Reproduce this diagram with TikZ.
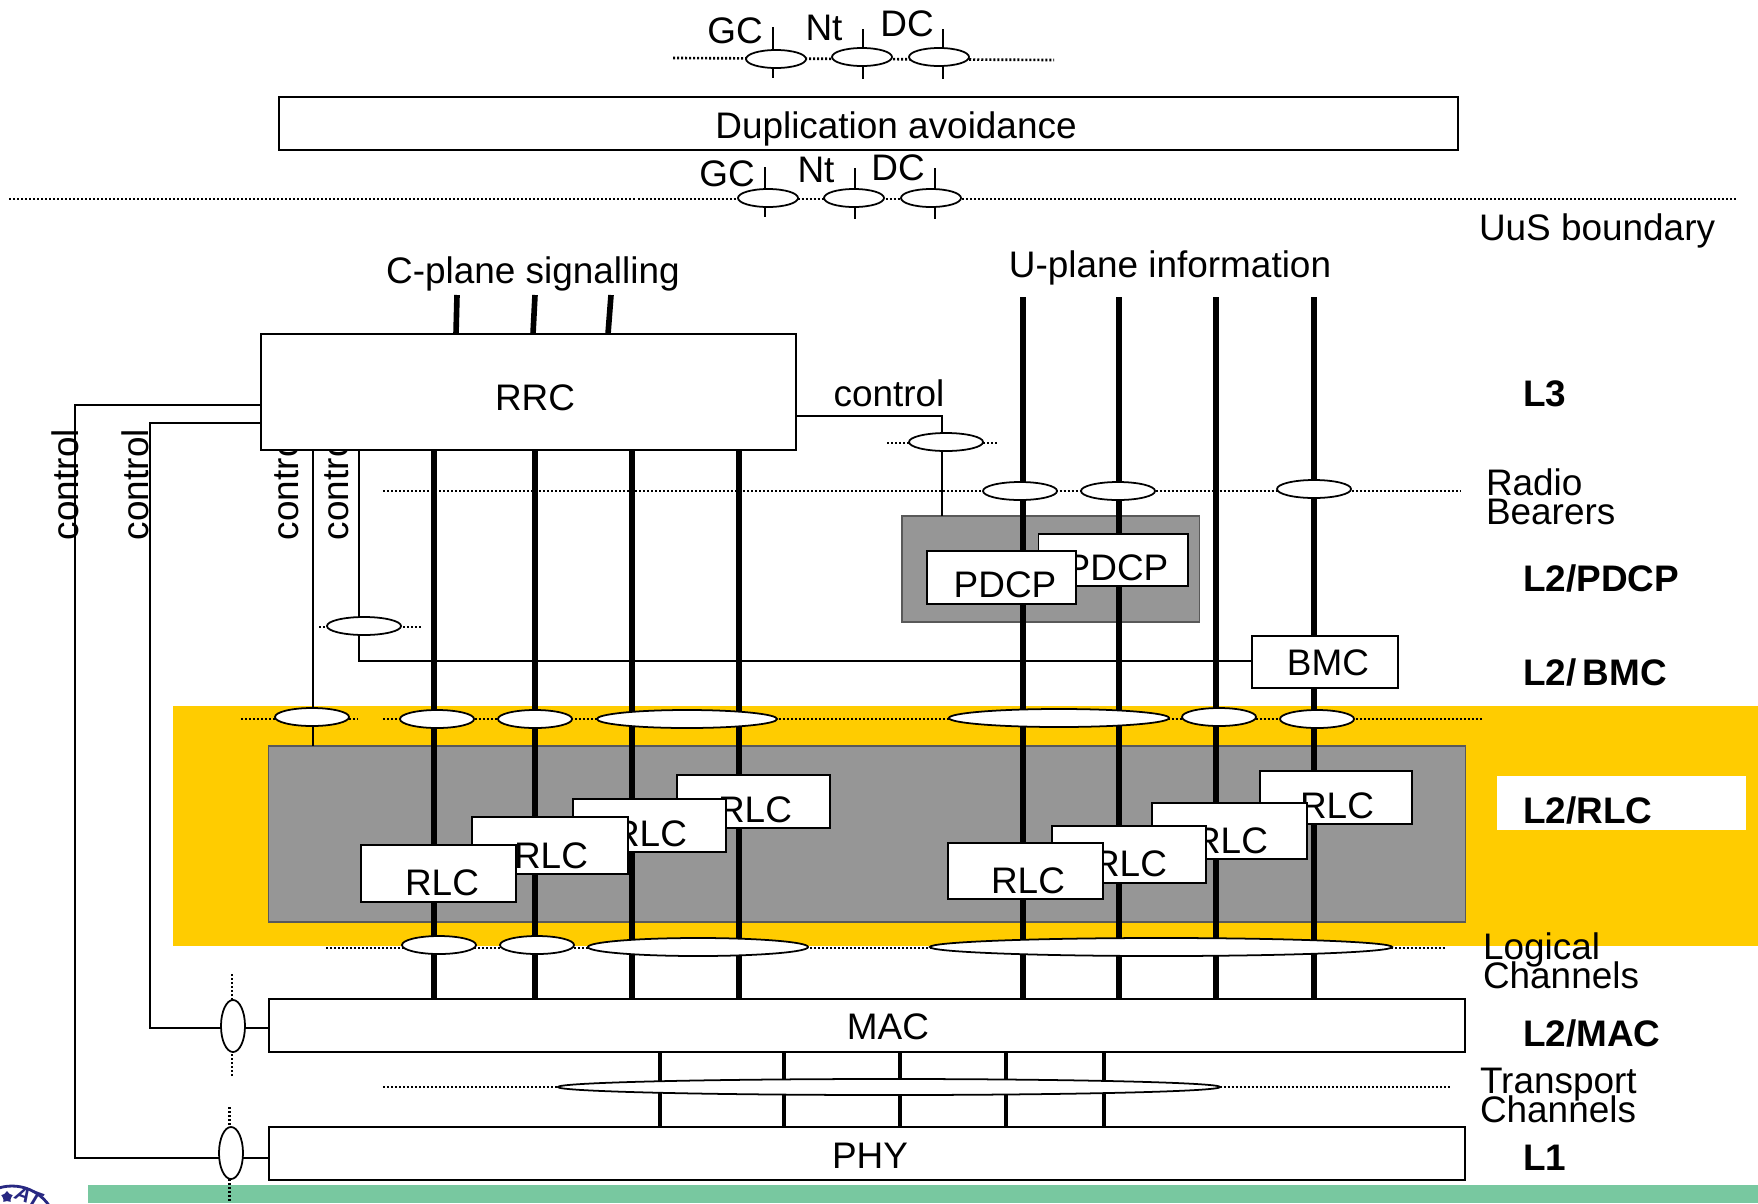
\documentclass[tikz,border=0pt]{standalone}
\usepackage{fontspec}
\setmainfont{Liberation Sans}
\usetikzlibrary{shapes.geometric}
\definecolor{bandyellow}{RGB}{255,204,0}
\definecolor{bandgray}{RGB}{150,150,150}
\definecolor{footgreen}{RGB}{120,200,160}
\definecolor{sealblue}{RGB}{40,40,130}
\newcommand{\lbltight}{\lineskiplimit -10pt\relax}
\tikzset{
  txt/.style={inner sep=0pt,outer sep=0pt,font=\fontsize{10.5}{8}\selectfont\lbltight,anchor=base},
  txtl/.style={txt,anchor=base west},
  txtb/.style={txtl,font=\fontsize{10.5}{8}\selectfont\bfseries},
  boxw/.style={draw=black,fill=white,line width=0.55pt,inner sep=0pt,outer sep=0pt},
  boxg/.style={draw=black!65,fill=bandgray,line width=0.45pt,inner sep=0pt,outer sep=0pt},
  flat/.style={inner sep=0pt,outer sep=0pt},
  oval/.style={ellipse,draw=black,fill=white,line width=0.5pt,inner sep=0pt,outer sep=0pt,minimum width=0.74cm,minimum height=0.18cm},
  ovalv/.style={oval,minimum width=0.24cm,minimum height=0.52cm},
  ctrl/.style={line width=0.5pt},
  chan/.style={line width=1.6pt},
  trch/.style={line width=1.3pt},
  dots/.style={line width=0.75pt,dash pattern=on 0.02cm off 0.02cm}
}
\begin{document}
\begin{tikzpicture}[x=0.01cm,y=-0.01cm]
\clip (0,0) rectangle (1758,1203);
\fill[white] (0,0) rectangle (1758,1203);
% bands
\node[flat,fill=bandyellow,minimum width=15.85cm,minimum height=2.40cm] (band) at (965.5,826) {};
\node[flat,fill=footgreen,minimum width=16.70cm,minimum height=0.18cm] (foot) at (923,1194) {};
\node[flat,fill=white,minimum width=2.49cm,minimum height=0.54cm] (rlcwhite) at (1621.5,803) {};
\node[boxg,minimum width=11.96cm,minimum height=1.76cm] (rlcbg) at (867,834) {};
\node[boxg,minimum width=2.975cm,minimum height=1.06cm] (pdcpbg) at (1050.75,569) {};
% seal
\draw[sealblue,line width=0.8pt] (12,1231) circle (45);
\node[flat,star,fill=sealblue,minimum size=0.12cm] (sealstar) at (7,1197) {};
\node[txt,rotate=-20,font=\fontsize{6}{6}\selectfont\bfseries\itshape,text=sealblue] (sealtxt) at (26,1203) {AT};

% top interfaces
\coordinate (dotAa) at (673,58);
\coordinate (dotAb) at (1054,60);
\coordinate (dotBa) at (9,199);
\coordinate (dotBb) at (1738,199);
\draw[dots] (dotAa) -- (dotAb);
\draw[dots] (dotBa) -- (dotBb);
\coordinate (tickAa) at (773,27);
\coordinate (tickAb) at (773,78);
\coordinate (tickBa) at (863,29);
\coordinate (tickBb) at (863,79);
\coordinate (tickCa) at (943,29);
\coordinate (tickCb) at (943,79);
\coordinate (tickDa) at (765,167);
\coordinate (tickDb) at (765,217);
\coordinate (tickEa) at (855,168);
\coordinate (tickEb) at (855,219);
\coordinate (tickFa) at (935,168);
\coordinate (tickFb) at (935,219);
\draw[ctrl] (tickAa) -- (tickAb);
\draw[ctrl] (tickBa) -- (tickBb);
\draw[ctrl] (tickCa) -- (tickCb);
\draw[ctrl] (tickDa) -- (tickDb);
\draw[ctrl] (tickEa) -- (tickEb);
\draw[ctrl] (tickFa) -- (tickFb);
\node[oval,minimum width=0.60cm] (gcA) at (776,59) {};
\node[oval,minimum width=0.60cm] (ntA) at (862,57) {};
\node[oval,minimum width=0.60cm] (dcA) at (939,57) {};
\node[oval,minimum width=0.60cm] (gcB) at (768,198) {};
\node[oval,minimum width=0.60cm] (ntB) at (854,198) {};
\node[oval,minimum width=0.60cm] (dcB) at (931,198) {};
\node[txt] (gcAt) at (735,43) {GC};
\node[txt] (ntAt) at (824,40) {Nt};
\node[txt] (dcAt) at (907,36) {DC};
\node[txt] (gcBt) at (727,186) {GC};
\node[txt] (ntBt) at (816,182) {Nt};
\node[txt] (dcBt) at (898,180) {DC};
\node[boxw,minimum width=11.79cm,minimum height=0.53cm] (dupl) at (868.5,123.5) {};
\node[txt] (duplt) at (896,138) {Duplication avoidance};
\node[txtl] (uust) at (1479,240) {UuS boundary};
\node[txt] (cplane) at (533,283) {C-plane signalling};
\node[txt] (uplane) at (1170,277) {U-plane information};

% labels under the RRC box
\node[txtl,rotate=90] (ctrlAt) at (78,540) {control};
\node[txtl,rotate=90] (ctrlBt) at (148,540) {control};
\node[txtl,rotate=90] (ctrlCt) at (298,540) {control};
\node[txtl,rotate=90] (ctrlDt) at (348,540) {control};

% dotted levels
\coordinate (rbA) at (383,491);
\coordinate (rbB) at (1461,491);
\coordinate (rcA) at (887,443);
\coordinate (rcB) at (998,443);
\coordinate (bcA) at (319,627);
\coordinate (bcB) at (421,627);
\coordinate (lcA) at (241,719);
\coordinate (lcB) at (358,719);
\coordinate (lcC) at (383,719);
\coordinate (lcD) at (1482,719);
\coordinate (loA) at (326,948);
\coordinate (loB) at (1446,948);
\coordinate (trA) at (383,1087);
\coordinate (trB) at (1450,1087);
\coordinate (mcA) at (232,974);
\coordinate (mcB) at (232,1076);
\coordinate (pcA) at (229.5,1107);
\coordinate (pcB) at (229.5,1203);
\draw[dots] (rbA) -- (rbB);
\draw[dots] (rcA) -- (rcB);
\draw[dots] (bcA) -- (bcB);
\draw[dots] (lcA) -- (lcB);
\draw[dots] (lcC) -- (lcD);
\draw[dots] (loA) -- (loB);
\draw[dots] (trA) -- (trB);
\draw[dots] (mcA) -- (mcB);
\draw[dots] (pcA) -- (pcB);

% main boxes
\node[boxw,minimum width=5.35cm,minimum height=1.16cm] (RRC) at (528.5,392) {};
\node[boxw,minimum width=11.96cm,minimum height=0.53cm] (MAC) at (867,1025.5) {};
\node[boxw,minimum width=11.96cm,minimum height=0.53cm] (PHY) at (867,1153.5) {};

% channels
\coordinate (upA) at (1023,297);
\coordinate (upB) at (1119,297);
\coordinate (upC) at (1216,297);
\coordinate (upD) at (1314,297);
\coordinate (cpA) at (457,295);
\coordinate (cpB) at (535,295);
\coordinate (cpC) at (611,295);
\draw[chan] (cpA) -- (456,0 |- RRC.north);
\draw[chan] (cpB) -- (533,0 |- RRC.north);
\draw[chan] (cpC) -- (608,0 |- RRC.north);
\draw[chan] (434,0 |- RRC.south) -- (434,0 |- MAC.north);
\draw[chan] (535,0 |- RRC.south) -- (535,0 |- MAC.north);
\draw[chan] (632,0 |- RRC.south) -- (632,0 |- MAC.north);
\draw[chan] (739,0 |- RRC.south) -- (739,0 |- MAC.north);
\draw[chan] (upA) -- (upA |- MAC.north);
\draw[chan] (upB) -- (upB |- MAC.north);
\draw[chan] (upC) -- (upC |- MAC.north);
\draw[chan] (upD) -- (upD |- MAC.north);
\draw[trch] (660,0 |- MAC.south) -- (660,0 |- PHY.north);
\draw[trch] (784,0 |- MAC.south) -- (784,0 |- PHY.north);
\draw[trch] (900,0 |- MAC.south) -- (900,0 |- PHY.north);
\draw[trch] (1006,0 |- MAC.south) -- (1006,0 |- PHY.north);
\draw[trch] (1104,0 |- MAC.south) -- (1104,0 |- PHY.north);

% control lines
\coordinate (ctA) at (75,405);
\coordinate (ctAb) at (75,1158);
\coordinate (ctB) at (150,423);
\coordinate (ctBb) at (150,1028);
\coordinate (ctC) at (313,449);
\coordinate (ctD) at (359,449);
\coordinate (ctDb) at (359,661);
\coordinate (ctE) at (942,416);
\draw[ctrl] (RRC.west |- ctA) -- (ctA) -- (ctAb) -- (PHY.west |- ctAb);
\draw[ctrl] (RRC.west |- ctB) -- (ctB) -- (ctBb) -- (MAC.west |- ctBb);
\draw[ctrl] (ctC) -- (ctC |- rlcbg.north);
\draw[ctrl] (ctD) -- (ctDb) -- (1252,661);
\draw[ctrl] (RRC.east |- ctE) -- (ctE) -- (ctE |- pdcpbg.north);

% ovals
\node[oval] (rcOv) at (946,442) {};
\node[oval] (rbA1) at (1020,491) {};
\node[oval] (rbA2) at (1118,491) {};
\node[oval] (rbA3) at (1314,489) {};
\node[oval] (bcOv) at (364,626) {};
\node[oval] (lcO1) at (312,717) {};
\node[oval] (lcO2) at (437,719) {};
\node[oval] (lcO3) at (535,719) {};
\node[oval,minimum width=1.80cm] (lcO4) at (687,719) {};
\node[oval,minimum width=2.20cm] (lcO5) at (1059,718) {};
\node[oval] (lcO6) at (1219,717) {};
\node[oval] (lcO7) at (1317,719) {};
\node[oval] (loO1) at (439,945) {};
\node[oval] (loO2) at (537,945) {};
\node[oval,minimum width=2.20cm] (loO3) at (698,947) {};
\node[oval,minimum width=4.62cm] (loO4) at (1161,947) {};
\node[oval,minimum width=6.62cm,minimum height=0.16cm] (trO) at (889,1087) {};
\node[ovalv] (macOv) at (233,1026) {};
\node[ovalv] (phyOv) at (231,1153) {};

% PDCP and BMC
\node[boxw,minimum width=1.495cm,minimum height=0.52cm] (pdcpB) at (1113.25,560) {};
\node[txt] (pdcpBt) at (1117,580) {PDCP};
\node[boxw,minimum width=1.49cm,minimum height=0.53cm] (pdcpA) at (1001.5,577.5) {};
\node[txt] (pdcpAt) at (1005,597) {PDCP};
\node[boxw,minimum width=1.46cm,minimum height=0.52cm] (BMC) at (1325,662) {};
\node[txt] (BMCt) at (1328,675) {BMC};

% RLC, back to front
\node[boxw,minimum width=1.53cm,minimum height=0.53cm] (rlcD) at (753.5,801.5) {};
\node[txt] (rlcDt) at (755,822) {RLC};
\node[boxw,minimum width=1.53cm,minimum height=0.53cm] (rlcC) at (649.5,825.5) {};
\node[txt] (rlcCt) at (650,846) {RLC};
\node[boxw,minimum width=1.56cm,minimum height=0.57cm] (rlcB) at (550,845.5) {};
\node[txt] (rlcBt) at (551,868) {RLC};
\node[boxw,minimum width=1.55cm,minimum height=0.57cm] (rlcA) at (438.5,873.5) {};
\node[txt] (rlcAt) at (442,895) {RLC};
\node[boxw,minimum width=1.52cm,minimum height=0.53cm] (rlcH) at (1336,797.5) {};
\node[txt] (rlcHt) at (1337,818) {RLC};
\node[boxw,minimum width=1.55cm,minimum height=0.56cm] (rlcG) at (1229.5,831) {};
\node[txt] (rlcGt) at (1231,853) {RLC};
\node[boxw,minimum width=1.54cm,minimum height=0.57cm] (rlcF) at (1129,854.5) {};
\node[txt] (rlcFt) at (1130,876) {RLC};
\node[boxw,minimum width=1.55cm,minimum height=0.56cm] (rlcE) at (1025.5,871) {};
\node[txt] (rlcEt) at (1028,893) {RLC};

% texts
\node[txt] (RRCt) at (535,410) {RRC};
\node[txt] (MACt) at (888,1039) {MAC};
\node[txt] (PHYt) at (870,1168) {PHY};
\node[txt] (ctrlEt) at (889,406) {control};
\node[txtl,align=left] (radiot) at (1486,524) {Radio\\Bearers};
\node[txtl,align=left] (logict) at (1483,988) {Logical\\Channels};
\node[txtl,align=left] (transt) at (1480,1122) {Transport\\Channels};
\node[txtb] (l3t) at (1523,406) {L3};
\node[txtb] (pdcpt) at (1523,591) {L2/PDCP};
\node[txtb] (bmct) at (1523,685) {L2/\kern0.17em BMC};
\node[txtb] (rlct) at (1523,823) {L2/RLC};
\node[txtb] (mact) at (1523,1046) {L2/MAC};
\node[txtb] (l1t) at (1523,1170) {L1};
\end{tikzpicture}
\end{document}
